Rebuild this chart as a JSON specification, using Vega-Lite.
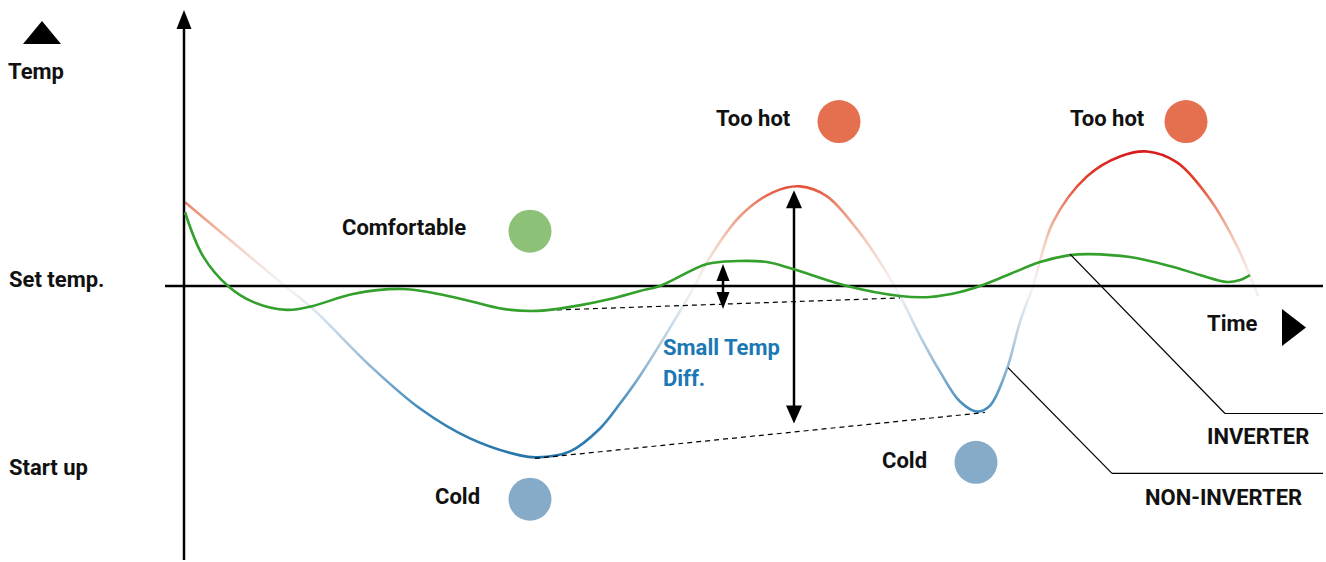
{
  "$schema": "https://vega.github.io/schema/vega-lite/v6.json",
  "width": 1326,
  "height": 562,
  "padding": 0,
  "autosize": {"type": "fit", "contains": "padding"},
  "background": "white",
  "config": {"view": {"stroke": null}},
  "resolve": {"scale": {"color": "independent", "shape": "independent"}},
  "datasets": {
    "inverter": [
      {"t": 1, "temp": 74}, {"t": 19, "temp": 30}, {"t": 44, "temp": 0}, {"t": 69, "temp": -16},
      {"t": 103, "temp": -24}, {"t": 129, "temp": -20}, {"t": 169, "temp": -8}, {"t": 219, "temp": -3},
      {"t": 269, "temp": -11}, {"t": 319, "temp": -23}, {"t": 353, "temp": -25}, {"t": 386, "temp": -21},
      {"t": 426, "temp": -13}, {"t": 456, "temp": -5}, {"t": 476, "temp": 0}, {"t": 523, "temp": 22},
      {"t": 553, "temp": 25}, {"t": 583, "temp": 24}, {"t": 609, "temp": 17}, {"t": 663, "temp": 0},
      {"t": 716, "temp": -10}, {"t": 746, "temp": -11}, {"t": 776, "temp": -6}, {"t": 796, "temp": 0},
      {"t": 826, "temp": 12}, {"t": 856, "temp": 24}, {"t": 886, "temp": 31}, {"t": 906, "temp": 32},
      {"t": 946, "temp": 29}, {"t": 986, "temp": 20}, {"t": 1016, "temp": 11}, {"t": 1043, "temp": 4},
      {"t": 1056, "temp": 6}, {"t": 1066, "temp": 11}
    ],
    "noninverter": [
      {"t": 1, "temp": 84}, {"t": 101, "temp": 0}, {"t": 129, "temp": -23}, {"t": 186, "temp": -80},
      {"t": 236, "temp": -123}, {"t": 286, "temp": -153}, {"t": 336, "temp": -170}, {"t": 353, "temp": -172},
      {"t": 386, "temp": -166}, {"t": 416, "temp": -143}, {"t": 436, "temp": -118}, {"t": 456, "temp": -90},
      {"t": 509, "temp": -3}, {"t": 523, "temp": 24}, {"t": 556, "temp": 70}, {"t": 589, "temp": 94},
      {"t": 616, "temp": 100}, {"t": 643, "temp": 90}, {"t": 673, "temp": 57}, {"t": 696, "temp": 24},
      {"t": 716, "temp": -10}, {"t": 736, "temp": -50}, {"t": 756, "temp": -86}, {"t": 776, "temp": -116},
      {"t": 793, "temp": -126}, {"t": 806, "temp": -120}, {"t": 823, "temp": -83}, {"t": 836, "temp": -36},
      {"t": 849, "temp": 0}, {"t": 869, "temp": 64}, {"t": 903, "temp": 110}, {"t": 936, "temp": 130},
      {"t": 963, "temp": 135}, {"t": 993, "temp": 124}, {"t": 1026, "temp": 87}, {"t": 1053, "temp": 40},
      {"t": 1074, "temp": -10}
    ],
    "rules": [
      {"kind": "solid", "t": 0, "temp": 267, "t2": 0, "temp2": -275},
      {"kind": "solid", "t": -19, "temp": 0, "t2": 1139, "temp2": 0},
      {"kind": "solid", "t": 610, "temp": 88, "t2": 610, "temp2": -130},
      {"kind": "solid", "t": 539, "temp": 14, "t2": 539, "temp2": -15},
      {"kind": "dashed", "t": 346, "temp": -25, "t2": 716, "temp2": -12},
      {"kind": "dashed", "t": 351, "temp": -173, "t2": 801, "temp2": -127},
      {"kind": "leader", "t": 886, "temp": 32, "t2": 1041, "temp2": -128},
      {"kind": "leader", "t": 1041, "temp": -128, "t2": 1139, "temp2": -128},
      {"kind": "leader", "t": 824, "temp": -82, "t2": 928, "temp2": -188},
      {"kind": "leader", "t": 928, "temp": -188, "t2": 1139, "temp2": -188}
    ],
    "glyphs": [
      {"glyph": "axisUp", "t": 0, "temp": 277},
      {"glyph": "bigUp", "t": 610, "temp": 96},
      {"glyph": "bigDown", "t": 610, "temp": -138},
      {"glyph": "smallUp", "t": 539, "temp": 22},
      {"glyph": "smallDown", "t": 539, "temp": -23},
      {"glyph": "tempIcon", "t": -142, "temp": 266},
      {"glyph": "timeIcon", "t": 1098, "temp": -23}
    ],
    "states": [
      {"state": "Comfortable", "t": 346, "temp": 55},
      {"state": "Too hot", "t": 655, "temp": 165},
      {"state": "Too hot", "t": 1002, "temp": 165},
      {"state": "Cold", "t": 346, "temp": -214},
      {"state": "Cold", "t": 792, "temp": -177}
    ],
    "labels": [
      {"text": "Temp", "group": "label", "t": -176, "temp": 208},
      {"text": "Set temp.", "group": "label", "t": -175, "temp": -1},
      {"text": "Start up", "group": "label", "t": -175, "temp": -190},
      {"text": "Comfortable", "group": "label", "t": 158, "temp": 51},
      {"text": "Too hot", "group": "label", "t": 532, "temp": 161},
      {"text": "Too hot", "group": "label", "t": 886, "temp": 161},
      {"text": "Cold", "group": "label", "t": 251, "temp": -219},
      {"text": "Cold", "group": "label", "t": 698, "temp": -183},
      {"text": "Small Temp", "group": "note", "t": 479, "temp": -69},
      {"text": "Diff.", "group": "note", "t": 479, "temp": -100},
      {"text": "Time", "group": "label", "t": 1023, "temp": -45},
      {"text": "INVERTER", "group": "label", "t": 1023, "temp": -159},
      {"text": "NON-INVERTER", "group": "label", "t": 961, "temp": -220}
    ]
  },
  "encoding": {
    "x": {"field": "t", "type": "quantitative", "scale": {"domain": [-184, 1142], "nice": false, "zero": false}, "axis": null},
    "y": {"field": "temp", "type": "quantitative", "scale": {"domain": [-275, 287], "nice": false, "zero": false}, "axis": null}
  },
  "layer": [
    {
      "data": {"name": "noninverter"},
      "mark": {
        "type": "line",
        "interpolate": "catmull-rom",
        "strokeWidth": 2.6,
        "stroke": {
          "gradient": "linear", "x1": 0, "y1": 0, "x2": 0, "y2": 1,
          "stops": [
            {"offset": 0, "color": "#d7191c"},
            {"offset": 0.1, "color": "#e2442c"},
            {"offset": 0.18, "color": "#e98d72"},
            {"offset": 0.3, "color": "#f4cfc0"},
            {"offset": 0.44, "color": "#f5f5f5"},
            {"offset": 0.55, "color": "#cfdeea"},
            {"offset": 0.7, "color": "#94b9d4"},
            {"offset": 0.85, "color": "#3d88bb"},
            {"offset": 1, "color": "#2474aa"}
          ]
        }
      },
      "encoding": {}
    },
    {
      "data": {"name": "rules"},
      "transform": [{"filter": "datum.kind === 'solid'"}],
      "mark": {"type": "rule", "color": "black", "strokeWidth": 2.5},
      "encoding": {"x2": {"field": "t2"}, "y2": {"field": "temp2"}}
    },
    {
      "data": {"name": "rules"},
      "transform": [{"filter": "datum.kind === 'dashed'"}],
      "mark": {"type": "rule", "color": "black", "strokeWidth": 1.2, "strokeDash": [5, 4]},
      "encoding": {"x2": {"field": "t2"}, "y2": {"field": "temp2"}}
    },
    {
      "data": {"name": "inverter"},
      "mark": {"type": "line", "interpolate": "catmull-rom", "stroke": "#33a02c", "strokeWidth": 2.6},
      "encoding": {}
    },
    {
      "data": {"name": "rules"},
      "transform": [{"filter": "datum.kind === 'leader'"}],
      "mark": {"type": "rule", "color": "black", "strokeWidth": 1.2},
      "encoding": {"x2": {"field": "t2"}, "y2": {"field": "temp2"}}
    },
    {
      "data": {"name": "glyphs"},
      "mark": {"type": "point", "filled": true, "color": "black", "opacity": 1, "size": 400, "strokeWidth": 0},
      "encoding": {
        "shape": {
          "field": "glyph", "type": "nominal", "legend": null,
          "scale": {
            "domain": ["axisUp", "bigUp", "bigDown", "smallUp", "smallDown", "tempIcon", "timeIcon"],
            "range": [
              "M0,0L0.75,1.9L-0.75,1.9Z",
              "M0,0L0.8,1.8L-0.8,1.8Z",
              "M0,0L0.8,-1.8L-0.8,-1.8Z",
              "M0,0L0.65,1.7L-0.65,1.7Z",
              "M0,0L0.65,-1.7L-0.65,-1.7Z",
              "M0,0L1.9,2.3L-1.9,2.3Z",
              "M0,0L2.4,1.85L0,3.7Z"
            ]
          }
        }
      }
    },
    {
      "data": {"name": "states"},
      "mark": {"type": "circle", "size": 1849, "opacity": 1},
      "encoding": {
        "color": {
          "field": "state", "type": "nominal", "legend": null,
          "scale": {"domain": ["Comfortable", "Too hot", "Cold"], "range": ["#8cc177", "#e5704f", "#86abc9"]}
        }
      }
    },
    {
      "data": {"name": "labels"},
      "mark": {"type": "text", "align": "left", "baseline": "alphabetic", "font": "Roboto", "fontWeight": "bold", "fontSize": 22},
      "encoding": {
        "text": {"field": "text"},
        "color": {
          "field": "group", "type": "nominal", "legend": null,
          "scale": {"domain": ["label", "note"], "range": ["#111111", "#1b78b4"]}
        }
      }
    }
  ]
}
